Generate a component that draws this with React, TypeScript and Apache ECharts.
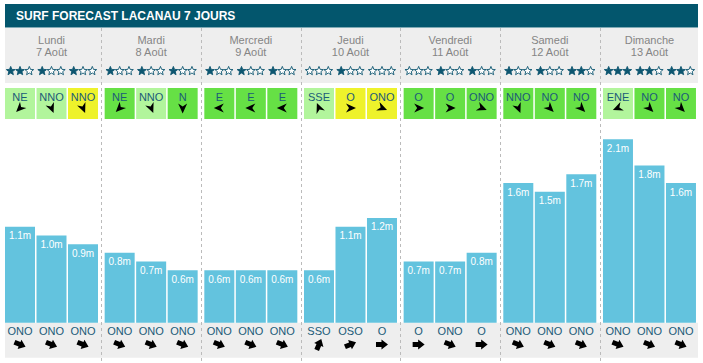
import React, { useEffect, useRef } from "react";
import * as echarts from "echarts";

const title = "SURF FORECAST LACANAU 7 JOURS";
const days = ["Lundi", "Mardi", "Mercredi", "Jeudi", "Vendredi", "Samedi", "Dimanche"];
const dates = ["7 Août", "8 Août", "9 Août", "10 Août", "11 Août", "12 Août", "13 Août"];
const slots = [0, 1, 2];
const waveHeights = [
  1.1, 1.0, 0.9,
  0.8, 0.7, 0.6,
  0.6, 0.6, 0.6,
  0.6, 1.1, 1.2,
  0.7, 0.7, 0.8,
  1.6, 1.5, 1.7,
  2.1, 1.8, 1.6,
];
const stars = [
  2, 1, 1,
  1, 1, 1,
  1, 1, 1,
  0, 1, 0,
  0, 1, 1,
  1, 1, 2,
  3, 2, 2,
];
const windDirections = [
  "NE", "NNO", "NNO",
  "NE", "NNO", "N",
  "E", "E", "E",
  "SSE", "O", "ONO",
  "O", "O", "ONO",
  "NNO", "NO", "NO",
  "ENE", "NO", "NO",
];
// 0 = light (pale green), 1 = moderate (green), 2 = onshore/strong (yellow)
const windStrength = [
  0, 0, 2,
  1, 0, 1,
  1, 1, 1,
  0, 2, 2,
  1, 1, 1,
  1, 1, 1,
  0, 1, 1,
];
const swellDirections = [
  "ONO", "ONO", "ONO",
  "ONO", "ONO", "ONO",
  "ONO", "ONO", "ONO",
  "SSO", "OSO", "O",
  "O", "ONO", "O",
  "ONO", "ONO", "ONO",
  "ONO", "ONO", "ONO",
];

const COMPASS: Record<string, number> = {
  N: 0, NNE: 22.5, NE: 45, ENE: 67.5, E: 90, ESE: 112.5, SE: 135, SSE: 157.5,
  S: 180, SSO: 202.5, SO: 225, OSO: 247.5, O: 270, ONO: 292.5, NO: 315, NNO: 337.5,
};

const FONT = '"Liberation Sans", Arial, sans-serif';
const WIND_COLORS = ["#b2f59c", "#66e045", "#eef22b"];
const TEAL = "#0d5670";
const TEXT_TEAL = "#1b5b78";
const BAR_COLOR = "#63c3de";

function rotPts(cx: number, cy: number, bearing: number, pts: number[][]) {
  const b = (bearing * Math.PI) / 180;
  const dx = Math.sin(b), dy = -Math.cos(b);
  const px = Math.cos(b), py = Math.sin(b);
  return pts.map(([u, v]) => [cx + u * px + v * dx, cy + u * py + v * dy]);
}

const WIND_ARROW = [[0, 5.5], [4.5, -4.5], [0, -1.5], [-4.5, -4.5]];
const SWELL_ARROW = [[-2.5, -6], [2.5, -6], [2.5, -0.5], [5, -0.5], [0, 6], [-5, -0.5], [-2.5, -0.5]];

function starPts(cx: number, cy: number, R: number, r: number) {
  const pts: number[][] = [];
  for (let k = 0; k < 10; k++) {
    const a = (k * Math.PI) / 5 - Math.PI / 2;
    const rad = k % 2 === 0 ? R : r;
    pts.push([cx + rad * Math.cos(a), cy + rad * Math.sin(a)]);
  }
  return pts;
}

export default function App() {
  const ref = useRef<HTMLDivElement>(null);
  useEffect(() => {
    if (!ref.current) return;
    const chart = echarts.init(ref.current, undefined, { renderer: "svg" });

    const barSeries = slots.map((s) => ({
      type: "bar",
      name: "slot" + s,
      data: days.map((_, d) => waveHeights[d * 3 + s]),
      barWidth: 30,
      barGap: "5%",
      z: 2,
      itemStyle: { color: BAR_COLOR },
      label: {
        show: true,
        position: "insideTop",
        distance: 4,
        color: "#ffffff",
        fontSize: 10,
        fontFamily: FONT,
        formatter: (p: any) => p.value.toFixed(1) + "m",
      },
    }));

    const cellData: number[][] = [];
    days.forEach((_, d) => slots.forEach((s) => cellData.push([d, s])));

    const option: any = {
      animation: false,
      grid: { left: 1.67, right: 3.7, top: 104.45, bottom: 40.3 },
      xAxis: { type: "category", data: days, show: false, boundaryGap: true },
      yAxis: { type: "value", min: 0, max: 2.5, show: false },
      graphic: [
        { type: "rect", z: -1, shape: { x: 5, y: 4, width: 693, height: 23.5 }, style: { fill: "#03566d" } },
        {
          type: "text", z: -1,
          style: { text: title, x: 16, y: 16, fill: "#ffffff", font: `bold 12px ${FONT}`, align: "left", verticalAlign: "middle" },
        },
        { type: "rect", z: -1, shape: { x: 5, y: 28, width: 693, height: 55 }, style: { fill: "#eeeeee" } },
        { type: "rect", z: -1, shape: { x: 5, y: 322.7, width: 693, height: 35 }, style: { fill: "#eeeeee" } },
      ],
      series: [
        ...barSeries,
        {
          type: "custom",
          name: "days",
          clip: false,
          z: 3,
          data: days.map((_, d) => [d, 0]),
          renderItem: (params: any, api: any) => {
            const d = api.value(0);
            const c = api.coord([d, 0]);
            const bw = api.size([1, 0])[0];
            const children: any[] = [
              {
                type: "text",
                style: { text: days[d], x: c[0], y: 39.5, fill: "#858585", font: `11px ${FONT}`, align: "center", verticalAlign: "middle" },
              },
              {
                type: "text",
                style: { text: dates[d], x: c[0], y: 51.5, fill: "#858585", font: `11px ${FONT}`, align: "center", verticalAlign: "middle" },
              },
            ];
            if (d > 0) {
              const x = Math.round(c[0] - bw / 2) + 0.5;
              children.push({
                type: "line",
                shape: { x1: x, y1: 28, x2: x, y2: 361 },
                style: { stroke: "#bbbbbb", lineWidth: 1, lineDash: [3, 3] },
              });
            }
            return { type: "group", children };
          },
        },
        {
          type: "custom",
          name: "cells",
          clip: false,
          z: 3,
          data: cellData,
          renderItem: (params: any, api: any) => {
            const d = api.value(0);
            const s = api.value(1);
            const i = d * 3 + s;
            const c = api.coord([d, 0]);
            const left = c[0] - 46.5 + s * 31.5;
            const cx = left + 15;
            const children: any[] = [];
            for (let k = 0; k < 3; k++) {
              const filled = k < stars[i];
              children.push({
                type: "polygon",
                shape: { points: starPts(cx + (k - 1) * 9.3, 71, 4.6, 2.0) },
                style: { fill: filled ? TEAL : "#ffffff", stroke: TEAL, lineWidth: 0.9 },
              });
            }
            children.push({
              type: "rect",
              shape: { x: left, y: 88, width: 30, height: 31 },
              style: { fill: WIND_COLORS[windStrength[i]] },
            });
            children.push({
              type: "text",
              style: { text: windDirections[i], x: cx, y: 96.5, fill: TEXT_TEAL, font: `11px ${FONT}`, align: "center", verticalAlign: "middle" },
            });
            children.push({
              type: "polygon",
              shape: { points: rotPts(cx, 108, (COMPASS[windDirections[i]] + 180) % 360, WIND_ARROW) },
              style: { fill: "#000000" },
            });
            children.push({
              type: "text",
              style: { text: swellDirections[i], x: cx, y: 331, fill: TEXT_TEAL, font: `11px ${FONT}`, align: "center", verticalAlign: "middle" },
            });
            children.push({
              type: "polygon",
              shape: { points: rotPts(cx, 344.5, (COMPASS[swellDirections[i]] + 180) % 360, SWELL_ARROW) },
              style: { fill: "#000000" },
            });
            return { type: "group", children };
          },
        },
      ],
    };
    chart.setOption(option);
    return () => chart.dispose();
  }, []);
  return (
    <div
      ref={ref}
      style={{ position: "fixed", left: 0, top: 0, width: 703, height: 363, background: "#ffffff" }}
    />
  );
}
